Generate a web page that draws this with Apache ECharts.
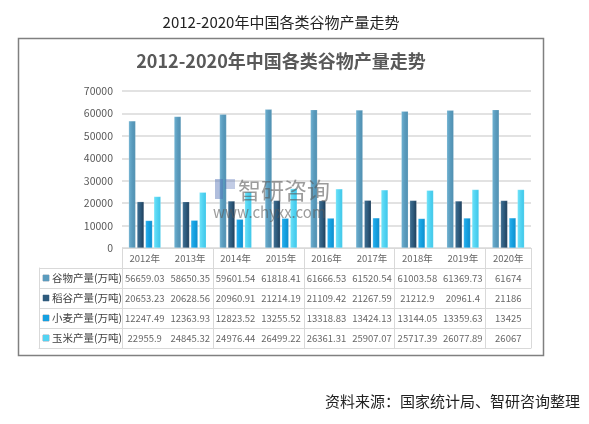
<!DOCTYPE html>
<html>
<head>
<meta charset="utf-8">
<script src="https://cdn.jsdelivr.net/npm/echarts@6/dist/echarts.min.js"></script>
<style>
  body { margin: 0; background: #fff; }
  #main { width: 589px; height: 424px; }
</style>
</head>
<body>
<div id="main"></div>
<script>
// 年份
var years = ["2012年", "2013年", "2014年", "2015年", "2016年", "2017年", "2018年", "2019年", "2020年"];
// 各类谷物产量(万吨)
var grain = [56659.03, 58650.35, 59601.54, 61818.41, 61666.53, 61520.54, 61003.58, 61369.73, 61674];
var rice = [20653.23, 20628.56, 20960.91, 21214.19, 21109.42, 21267.59, 21212.9, 20961.4, 21186];
var wheat = [12247.49, 12363.93, 12823.52, 13255.52, 13318.83, 13424.13, 13144.05, 13359.63, 13425];
var corn = [22955.9, 24845.32, 24976.44, 26499.22, 26361.31, 25907.07, 25717.39, 26077.89, 26067];
var names = ["谷物产量(万吨)", "稻谷产量(万吨)", "小麦产量(万吨)", "玉米产量(万吨)"];
// y轴刻度
var yMin = 0, yMax = 70000, yStep = 10000;

var colors = [
  ["#6fb2d2", "#4f8fb0", "#5a9bbd"],
  ["#3f6f92", "#1c3c58", "#2e5b7d"],
  ["#2bb0ee", "#0f8ccb", "#14a0e0"],
  ["#6ee3f8", "#3cc6e8", "#52d3f2"],
];
var font = "Noto Sans CJK SC";
var lineColor = "#d9d9d9";

var myChart = echarts.init(document.getElementById("main"));

var allSeries = [grain, rice, wheat, corn];
// 表格单元格
var cells = [];
years.forEach(function (y, i) {
  cells.push({ value: [i, 0], text: y });
  allSeries.forEach(function (arr, r) {
    cells.push({ value: [i, r + 1], text: String(arr[i]) });
  });
});

var barSeries = allSeries.map(function (arr, k) {
  return {
    name: names[k],
    type: "bar",
    xAxisIndex: 0,
    yAxisIndex: 0,
    barWidth: 7,
    barGap: "20%",
    itemStyle: {
      color: new echarts.graphic.LinearGradient(0, 0, 1, 0, [
        { offset: 0, color: colors[k][0] },
        { offset: 0.5, color: colors[k][2] },
        { offset: 1, color: colors[k][1] },
      ]),
      borderColor: "rgba(255,255,255,0.35)",
      borderWidth: 0.5,
    },
    data: arr,
  };
});

var rowRich = {};
colors.forEach(function (c, k) {
  rowRich["m" + k] = { width: 6, height: 6, backgroundColor: c[2], borderColor: "#9ab", borderWidth: 0.5 };
});
rowRich.t = { fontSize: 10.5, color: "#404040", fontFamily: font, padding: [0, 0, 0, 3] };

var option = {
  animation: false,
  textStyle: { fontFamily: font },
  graphic: [
    {
      type: "text", x: 281, y: 22,
      style: { text: "2012-2020年中国各类谷物产量走势", font: "15px " + font, fill: "#222", align: "center", verticalAlign: "middle" },
    },
    {
      type: "rect", shape: { x: 18.5, y: 38.5, width: 525, height: 317 },
      style: { fill: "none", stroke: "#808080", lineWidth: 1.5 },
    },
    {
      type: "text", x: 281, y: 61,
      style: { text: "2012-2020年中国各类谷物产量走势", font: "bold 18px " + font, fill: "#595959", align: "center", verticalAlign: "middle" },
    },
    // 水印
    { type: "rect", shape: { x: 215, y: 179, width: 8, height: 20 }, style: { fill: "rgba(80,110,180,0.45)" }, z: 100 },
    { type: "rect", shape: { x: 225, y: 179, width: 10, height: 10 }, style: { fill: "rgba(80,110,180,0.35)" }, z: 100 },
    {
      type: "text", x: 238, y: 190, z: 100,
      style: { text: "智研咨询", font: "23px " + font, fill: "rgba(90,90,90,0.6)", verticalAlign: "middle" },
    },
    {
      type: "text", x: 213, y: 212, z: 100,
      style: { text: "www.chyxx.com", font: "15px " + font, fill: "rgba(90,90,90,0.6)", verticalAlign: "middle" },
    },
    {
      type: "text", x: 580, y: 401,
      style: { text: "资料来源：国家统计局、智研咨询整理", font: "15px " + font, fill: "#222", align: "right", verticalAlign: "middle" },
    },
  ],
  grid: [
    { left: 122, right: 58, top: 91, height: 157 },
    { left: 122, right: 58, top: 248, height: 100 },
    { left: 39, width: 83, top: 268, height: 80 },
  ],
  xAxis: [
    {
      gridIndex: 0, type: "category", data: years,
      axisLine: { show: false }, axisTick: { show: false }, axisLabel: { show: false },
    },
    {
      gridIndex: 1, type: "category", data: years,
      axisLine: { show: true, lineStyle: { color: lineColor } },
      axisTick: { show: false }, axisLabel: { show: false },
      splitLine: { show: true, lineStyle: { color: lineColor } },
    },
    {
      gridIndex: 2, type: "category", data: [""],
      axisLine: { show: true, lineStyle: { color: lineColor } },
      axisTick: { show: false }, axisLabel: { show: false },
      splitLine: { show: true, lineStyle: { color: lineColor } },
    },
  ],
  yAxis: [
    {
      gridIndex: 0, type: "value", min: yMin, max: yMax, interval: yStep,
      axisLine: { show: false }, axisTick: { show: false },
      axisLabel: { color: "#595959", fontSize: 10.5, margin: 9, formatter: function (v) { return String(v); } },
      splitLine: { lineStyle: { color: lineColor, width: 1.5 } },
    },
    {
      gridIndex: 1, type: "category", inverse: true, data: [0, 1, 2, 3, 4],
      axisLine: { show: true, lineStyle: { color: lineColor } },
      axisTick: { show: false }, axisLabel: { show: false },
      splitLine: { show: true, lineStyle: { color: lineColor } },
    },
    {
      gridIndex: 2, type: "category", inverse: true, data: names,
      axisLine: { show: true, lineStyle: { color: lineColor } },
      axisTick: { show: false },
      axisLabel: {
        inside: true, margin: 4,
        formatter: function (v, idx) { return "{m" + idx + "|}{t|" + v + "}"; },
        rich: rowRich,
      },
      splitLine: { show: true, lineStyle: { color: lineColor } },
    },
  ],
  series: barSeries.concat([
    {
      type: "scatter",
      xAxisIndex: 1,
      yAxisIndex: 1,
      symbolSize: 1,
      itemStyle: { color: "rgba(0,0,0,0)" },
      label: {
        show: true, position: "inside",
        formatter: function (p) { return p.data.text; },
        color: "#404040", fontSize: 9.5, fontFamily: font,
      },
      data: cells,
    },
  ]),
};

myChart.setOption(option);
</script>
</body>
</html>
